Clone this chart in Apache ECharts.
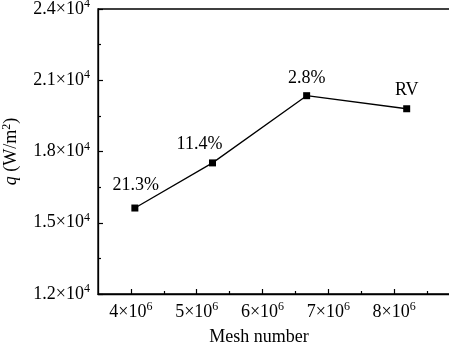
<!DOCTYPE html>
<html>
<head>
<meta charset="utf-8">
<script src="https://cdn.jsdelivr.net/npm/echarts@6/dist/echarts.min.js"></script>
<style>
  html, body { margin:0; padding:0; background:#fff; }
  #chart { width:449px; height:347px; }
</style>
</head>
<body>
<div id="chart"></div>
<script>
// mesh independence data
const meshNumbers = [4.06e6, 5.24e6, 6.67e6, 8.19e6];
const heatFlux = [15620, 17520, 20350, 19800];
const pointLabels = ['21.3%', '11.4%', '2.8%', 'RV'];
const xLabelValues = [4e6, 5e6, 6e6, 7e6, 8e6];
const xMajorTicks = [4e6, 5e6, 6e6, 7e6, 8e6, 9e6];
const xMinorTicks = [4.5e6, 5.5e6, 6.5e6, 7.5e6, 8.5e6];

const font = "'Liberation Serif', 'Times New Roman', serif";
const sci = (mant, exp) => '{b|' + mant + '×10}{s|' + exp + '}';
const richTick = {
    b: { fontFamily: font, fontSize: 18, color: '#000', lineHeight: 22 },
    s: { fontFamily: font, fontSize: 12, color: '#000', verticalAlign: 'top', lineHeight: 22 }
};
const labelOffsets = [[1, 0], [-13, 4], [0, 5], [0, 4]];

let myChart = echarts.init(document.getElementById('chart'));
let option = {
    backgroundColor: '#fff',
    animation: false,
    grid: {
        left: 98, top: 9, right: -11, bottom: 53,
        outerBoundsMode: 'none',
        containLabel: false,
        show: true, borderColor: '#000', borderWidth: 1.3
    },
    xAxis: [
        {
            type: 'value',
            min: 3.5e6,
            max: 9e6,
            name: 'Mesh number',
            nameLocation: 'middle',
            nameGap: 34,
            nameTextStyle: { fontFamily: font, fontSize: 18, color: '#000', padding: [0, 40, 0, 0] },
            axisLine: { lineStyle: { color: '#000', width: 1.3 } },
            axisTick: { inside: true, length: 5, customValues: xMajorTicks, lineStyle: { color: '#000', width: 1.2 } },
            axisLabel: {
                customValues: xLabelValues,
                margin: 7,
                formatter: v => sci(Math.round(v / 1e6), 6),
                rich: richTick
            },
            splitLine: { show: false }
        },
        {
            type: 'value',
            min: 3.5e6,
            max: 9e6,
            position: 'bottom',
            axisLine: { show: false },
            axisTick: { inside: true, length: 3, customValues: xMinorTicks, lineStyle: { color: '#000', width: 1.2 } },
            axisLabel: { show: false },
            splitLine: { show: false }
        }
    ],
    yAxis: {
        type: 'value',
        min: 12000,
        max: 24000,
        interval: 3000,
        name: '{i|q} (W/m{s|2})',
        nameLocation: 'middle',
        nameGap: 70,
        nameTextStyle: {
            rich: {
                i: { fontFamily: font, fontSize: 18, fontStyle: 'italic', color: '#000', lineHeight: 22 },
                s: { fontFamily: font, fontSize: 12, color: '#000', verticalAlign: 'top', lineHeight: 22 }
            },
            fontFamily: font, fontSize: 18, color: '#000', lineHeight: 22
        },
        axisLine: { show: true, lineStyle: { color: '#000', width: 1.3 } },
        axisTick: { inside: true, length: 5, lineStyle: { color: '#000', width: 1.2 } },
        minorTick: { show: true, splitNumber: 2, length: 3, lineStyle: { color: '#000', width: 1.2 } },
        axisLabel: {
            margin: 8,
            formatter: v => sci((v / 10000).toFixed(1), 4),
            rich: richTick
        },
        splitLine: { show: false }
    },
    series: [{
        type: 'line',
        xAxisIndex: 0,
        symbol: 'rect',
        symbolSize: 7,
        itemStyle: { color: '#000' },
        lineStyle: { color: '#000', width: 1.3 },
        label: {
            show: true,
            position: 'top',
            distance: 10,
            fontFamily: font,
            fontSize: 18,
            color: '#000'
        },
        data: meshNumbers.map((x, i) => ({
            value: [x, heatFlux[i]],
            label: { formatter: pointLabels[i], offset: labelOffsets[i] }
        }))
    }]
};
myChart.setOption(option);
</script>
</body>
</html>
